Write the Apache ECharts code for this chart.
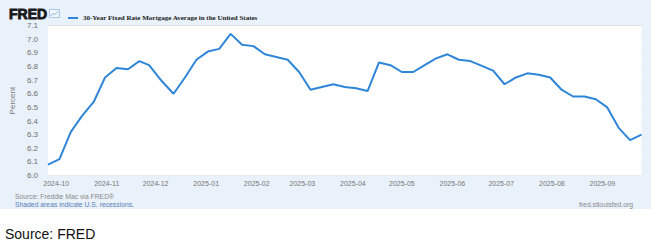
<!DOCTYPE html>
<html>
<head>
<meta charset="utf-8">
<script src="https://cdn.jsdelivr.net/npm/echarts@6/dist/echarts.min.js"></script>
<style>
html,body{margin:0;padding:0;background:#fff;}
#chart{width:660px;height:248px;}
</style>
</head>
<body>
<div id="chart"></div>
<script>
const seriesName = '30-Year Fixed Rate Mortgage Average in the United States';
const dates = [
'2024-09-26','2024-10-03','2024-10-10','2024-10-17','2024-10-24','2024-10-31',
'2024-11-07','2024-11-14','2024-11-21','2024-11-27','2024-12-05','2024-12-12',
'2024-12-19','2024-12-26','2025-01-02','2025-01-09','2025-01-16','2025-01-23',
'2025-01-30','2025-02-06','2025-02-13','2025-02-20','2025-02-27','2025-03-06',
'2025-03-13','2025-03-20','2025-03-27','2025-04-03','2025-04-10','2025-04-17',
'2025-04-24','2025-05-01','2025-05-08','2025-05-15','2025-05-22','2025-05-29',
'2025-06-05','2025-06-12','2025-06-18','2025-06-26','2025-07-03','2025-07-10',
'2025-07-17','2025-07-24','2025-07-31','2025-08-07','2025-08-14','2025-08-21',
'2025-08-28','2025-09-04','2025-09-11','2025-09-18','2025-09-25'
];
const values = [
6.08,6.12,6.32,6.44,6.54,6.72,
6.79,6.78,6.84,6.81,6.69,6.60,
6.72,6.85,6.91,6.93,7.04,6.96,
6.95,6.89,6.87,6.85,6.76,6.63,
6.65,6.67,6.65,6.64,6.62,6.83,
6.81,6.76,6.76,6.81,6.86,6.89,
6.85,6.84,6.81,6.77,6.67,6.72,
6.75,6.74,6.72,6.63,6.58,6.58,
6.56,6.50,6.35,6.26,6.30
];
const yMin = 6.0, yMax = 7.1, yStep = 0.1;
const axisName = 'Percent';
const sourceLine = 'Source: Freddie Mac via FRED\u00AE';
const shadedLine = 'Shaded areas indicate U.S. recessions.';
const siteText = 'fred.stlouisfed.org';
const footerText = 'Source: FRED';

const chart = echarts.init(document.getElementById('chart'), null, {renderer: 'svg'});
const DAY = 86400000;
const pad2 = n => (n < 10 ? '0' : '') + n;

chart.setOption({
  animation: false,
  backgroundColor: 'transparent',
  grid: {left: 45, right: 18.5, top: 25.7, bottom: 72.5, show: true, backgroundColor: '#ffffff', borderWidth: 0, z: 1},
  legend: {
    data: [seriesName],
    left: 63, top: 9.5,
    icon: 'rect', itemWidth: 10, itemHeight: 2,
    textStyle: {fontFamily: 'Liberation Serif', fontWeight: 'bold', fontSize: 7, color: '#222'}
  },
  xAxis: {
    type: 'time',
    min: new Date(dates[0] + 'T00:00:00').getTime(),
    max: new Date(dates[dates.length - 1] + 'T00:00:00').getTime(),
    minInterval: 28 * DAY,
    maxInterval: 31 * DAY,
    splitNumber: 12,
    axisLine: {show: false},
    axisTick: {show: false},
    splitLine: {show: false},
    axisLabel: {
      showMinLabel: false, showMaxLabel: false,
      margin: 4, fontSize: 7, color: '#777', fontFamily: 'Liberation Sans',
      hideOverlap: false,
      formatter: function (v) { const d = new Date(v); return d.getFullYear() + '-' + pad2(d.getMonth() + 1); }
    }
  },
  yAxis: {
    type: 'value', min: yMin, max: yMax, interval: yStep,
    name: axisName, nameLocation: 'middle', nameRotate: 90, nameGap: 30,
    nameTextStyle: {fontSize: 8, color: '#777', fontFamily: 'Liberation Sans'},
    axisLine: {show: false}, axisTick: {show: false},
    splitLine: {lineStyle: {color: '#d6d6d6', width: 1.2}},
    axisLabel: {
      margin: 10, fontSize: 8, color: '#6f6f6f', fontFamily: 'Liberation Sans',
      padding: [0, 0, 6, 0],
      formatter: v => v.toFixed(1)
    }
  },
  series: [{
    name: seriesName,
    type: 'line',
    data: dates.map((d, i) => [d + 'T00:00:00', values[i]]),
    showSymbol: false,
    lineStyle: {color: '#2f86d9', width: 2},
    itemStyle: {color: '#2f86d9'},
    z: 3
  }],
  graphic: [
    {type: 'rect', z: -10, shape: {x: 0, y: 0, width: 651, height: 209}, style: {fill: '#e9f1fa'}},
    {type: 'text', z: 5, x: 9, y: 14, style: {text: 'FRED', fontFamily: 'Liberation Sans', fontWeight: 'bold', fontSize: 14, fill: '#1a1a1a', stroke: '#1a1a1a', lineWidth: 0.9, verticalAlign: 'middle'}},
    {type: 'rect', z: 5, shape: {x: 49.5, y: 9.5, width: 10, height: 8}, style: {fill: '#f4f8fd', stroke: '#a8c6ea', lineWidth: 1}},
    {type: 'polyline', z: 5, shape: {points: [[50.5, 16], [53, 13.5], [55, 14.5], [58.5, 11]]}, style: {stroke: '#7fb0e6', lineWidth: 1, fill: null}},
    {type: 'text', z: 5, x: 15, y: 196.5, style: {text: sourceLine, fontFamily: 'Liberation Sans', fontSize: 6.8, fill: '#8a8a8a', verticalAlign: 'middle'}},
    {type: 'text', z: 5, x: 15, y: 204.5, style: {text: shadedLine, fontFamily: 'Liberation Sans', fontSize: 6.8, fill: '#5a7fb5', verticalAlign: 'middle'}},
    {type: 'text', z: 5, x: 633, y: 204.5, style: {text: siteText, fontFamily: 'Liberation Sans', fontSize: 6.8, fill: '#8a8a8a', align: 'right', verticalAlign: 'middle'}},
    {type: 'text', z: 5, x: 5, y: 233.5, style: {text: footerText, fontFamily: 'Liberation Sans', fontSize: 14, fill: '#111', verticalAlign: 'middle'}}
  ]
});
</script>
</body>
</html>
